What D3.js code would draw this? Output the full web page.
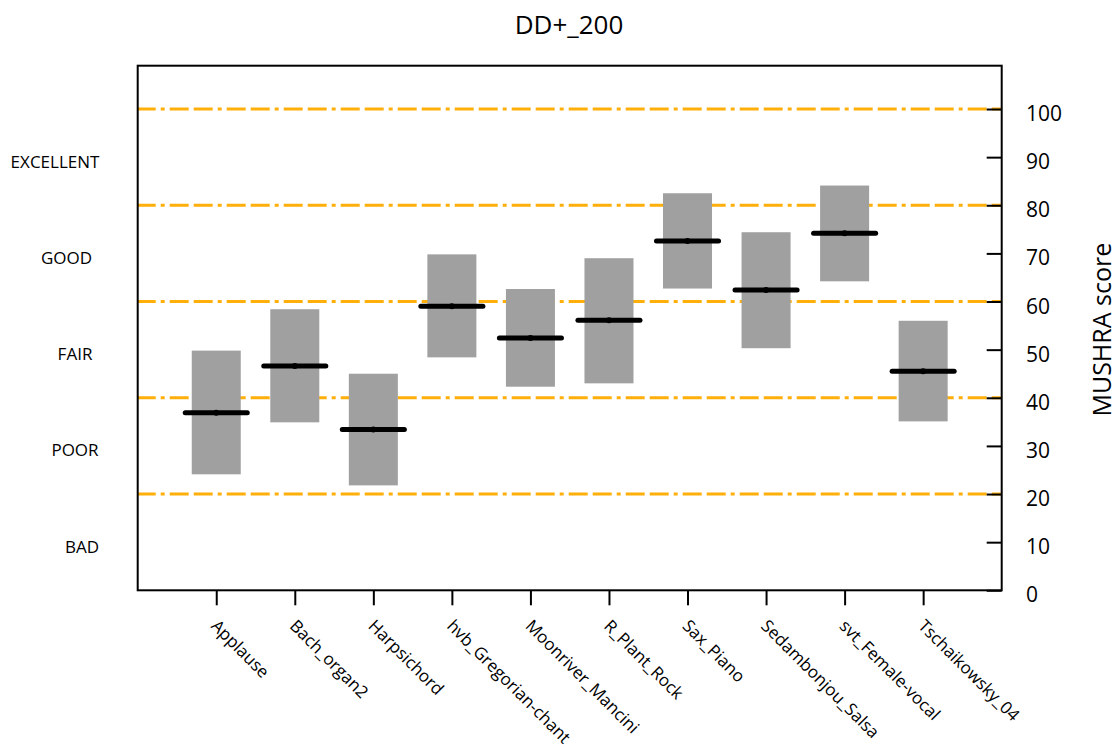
<!DOCTYPE html>
<html>
<head>
<meta charset="utf-8">
<script src="https://cdn.jsdelivr.net/npm/d3@7"></script>
<style>
  html, body { margin: 0; padding: 0; background: #fff; }
  text { font-family: "Open Sans", "Noto Sans", sans-serif; fill: #000; }
</style>
</head>
<body>
<svg id="chart" width="1119" height="753"></svg>
<script>
// ---- data ----
const categories = ["Applause", "Bach_organ2", "Harpsichord", "hvb_Gregorian-chant",
  "Moonriver_Mancini", "R_Plant_Rock", "Sax_Piano", "Sedambonjou_Salsa",
  "svt_Female-vocal", "Tschaikowsky_04"];
const meanScores = [36.9, 46.6, 33.4, 59.0, 52.4, 56.1, 72.6, 62.4, 74.2, 45.5];
const lowerCI    = [24.1, 34.9, 21.8, 48.4, 42.3, 43.0, 62.7, 50.3, 64.2, 35.1];
const upperCI    = [49.8, 58.4, 45.0, 69.8, 62.6, 69.0, 82.5, 74.4, 84.1, 56.0];
const yTicks = [0, 10, 20, 30, 40, 50, 60, 70, 80, 90, 100];
const refLines = [20, 40, 60, 80, 100];
const qualityLabels = ["EXCELLENT", "GOOD", "FAIR", "POOR", "BAD"];
const qualityValues = [90, 70, 50, 30, 10];
const titleText = "DD+_200";
const yTitle = "MUSHRA score";

// ---- layout ----
const L = 137.7, R = 1001.7, T = 65.7, B = 590.3;
const qualityLabelX = [55, 66.5, 75, 75, 82];
const svg = d3.select("#chart");

const x = d3.scaleLinear().domain([0, categories.length + 1]).range([L, R]);
const y = d3.scaleLinear().domain([0, 109]).range([B, T]);
const step = x(1) - x(0);

// title
svg.append("text").attr("x", 569).attr("y", 34)
  .attr("text-anchor", "middle").attr("font-size", 26).text(titleText);

// reference lines
svg.append("g").selectAll("line").data(refLines).join("line")
  .attr("x1", L).attr("x2", R)
  .attr("y1", d => y(d)).attr("y2", d => y(d))
  .attr("stroke", "#FFAF0A").attr("stroke-width", 3)
  .attr("stroke-dasharray", "19 5 19 5 4 5")
  .attr("stroke-dashoffset", 25);

// boxes
const g = svg.append("g");
g.selectAll("rect").data(categories).join("rect")
  .attr("x", (d, i) => x(i + 1) - step * 0.312)
  .attr("width", step * 0.624)
  .attr("y", (d, i) => y(upperCI[i]))
  .attr("height", (d, i) => y(lowerCI[i]) - y(upperCI[i]))
  .attr("fill", "#A0A0A0");

g.selectAll("line.med").data(categories).join("line").attr("class", "med")
  .attr("x1", (d, i) => x(i + 1) - step * 0.395)
  .attr("x2", (d, i) => x(i + 1) + step * 0.395)
  .attr("y1", (d, i) => y(meanScores[i]))
  .attr("y2", (d, i) => y(meanScores[i]))
  .attr("stroke", "#000").attr("stroke-width", 5).attr("stroke-linecap", "round");

g.selectAll("circle").data(categories).join("circle")
  .attr("cx", (d, i) => x(i + 1)).attr("cy", (d, i) => y(meanScores[i]))
  .attr("r", 3).attr("fill", "#000");

// frame
svg.append("rect").attr("x", L).attr("y", T).attr("width", R - L).attr("height", B - T)
  .attr("fill", "none").attr("stroke", "#000").attr("stroke-width", 2);

// right y axis (ticks pointing inward)
const yAxis = d3.axisLeft(y).tickValues(yTicks).tickSize(15).tickFormat("");
const ya = svg.append("g").attr("transform", `translate(${R},0)`).call(yAxis);
ya.select(".domain").remove();
ya.selectAll(".tick line").attr("stroke", "#000").attr("stroke-width", 2);

svg.append("g").selectAll("text").data(yTicks).join("text")
  .attr("x", 1026).attr("y", d => y(d) + 12)
  .attr("font-size", 21).text(d => d);

// y title
svg.append("text")
  .attr("transform", `translate(1111,${(y(0) + y(100)) / 2 - 20}) rotate(-90)`)
  .attr("text-anchor", "middle").attr("font-size", 25).text(yTitle);

// bottom x axis
const xAxis = d3.axisBottom(x).tickValues(d3.range(1, categories.length + 1))
  .tickSize(15).tickFormat("");
const xa = svg.append("g").attr("transform", `translate(0,${B})`).call(xAxis);
xa.select(".domain").remove();
xa.selectAll(".tick line").attr("stroke", "#000").attr("stroke-width", 2);

svg.append("g").selectAll("text").data(categories).join("text")
  .attr("transform", (d, i) => `translate(${x(i + 1) - 6},627) rotate(45)`)
  .attr("font-size", 17).text(d => d);

// quality labels on the left
svg.append("g").selectAll("text").data(qualityLabels).join("text")
  .attr("x", (d, i) => qualityLabelX[i])
  .attr("y", (d, i) => y(qualityValues[i]) + 10.5)
  .attr("text-anchor", "middle").attr("font-size", 17).text(d => d);
</script>
</body>
</html>
